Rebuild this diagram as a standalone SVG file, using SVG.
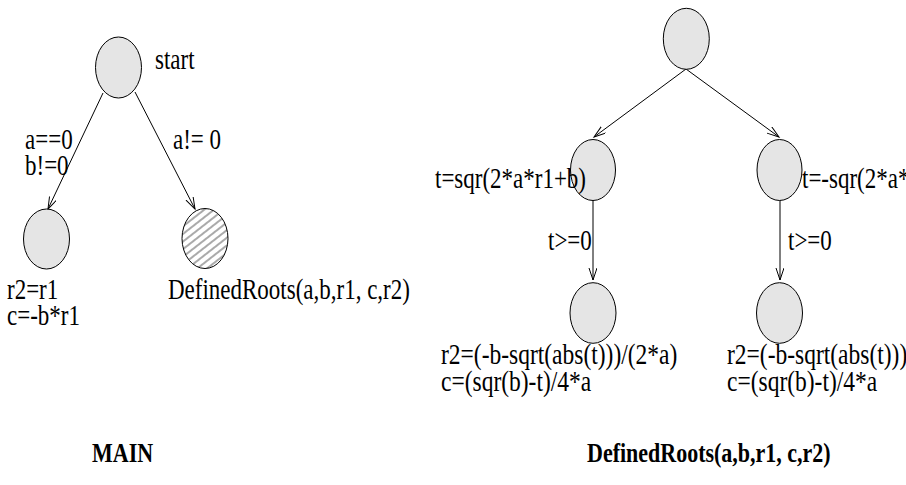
<svg xmlns="http://www.w3.org/2000/svg" width="906" height="485" viewBox="0 0 906 485">
  <style>
    .node { fill: #e5e5e5; stroke: #000; stroke-width: 1; }
    .hatched { fill: url(#hatch); stroke: #000; stroke-width: 1; }
    .edge { fill: none; stroke: #000; stroke-width: 1; marker-end: url(#arrow); }
    .lbl { font-family: "Liberation Serif", "Times New Roman", serif; font-size: 23px; fill: #000; }
    .formula { font-size: 23.5px; }
    .title { font-family: "Liberation Serif", "Times New Roman", serif; font-size: 22px; font-weight: bold; fill: #000; }
  </style>
  <defs>
    <marker id="arrow" markerUnits="userSpaceOnUse" markerWidth="14" markerHeight="10" refX="12" refY="4" orient="auto">
      <path d="M0,0 L12,4 L0,8" fill="none" stroke="#000" stroke-width="1"/>
    </marker>
    <pattern id="hatch" patternUnits="userSpaceOnUse" width="6" height="6" patternTransform="rotate(-38)">
      <rect width="6" height="6" fill="#fff"/>
      <line x1="0" y1="3" x2="6" y2="3" stroke="#555" stroke-width="1"/>
    </pattern>
  </defs>

  <!-- MAIN procedure -->
  <g id="connectors-main">
    <line class="edge" x1="103" y1="93" x2="48" y2="209"/>
    <line class="edge" x1="135" y1="92" x2="195" y2="209"/>
    <text class="lbl" transform="translate(25,148.5) scale(1,1.25)"><tspan x="0" y="0">a==0</tspan><tspan x="0" dy="21.6">b!=0</tspan></text>
    <text class="lbl" transform="translate(173,148.5) scale(1,1.25)">a!= 0</text>
  </g>

  <g id="main-start">
    <ellipse class="node" cx="118.5" cy="67.5" rx="23" ry="30.5"/>
    <text class="lbl" transform="translate(155,69) scale(1,1.25)">start</text>
  </g>

  <g id="main-linear">
    <ellipse class="node" cx="46.5" cy="239" rx="23" ry="30"/>
    <text class="lbl" transform="translate(7,299) scale(1,1.25)"><tspan x="0" y="0">r2=r1</tspan><tspan x="0" dy="21.2">c=-b*r1</tspan></text>
  </g>

  <g id="main-call">
    <ellipse class="hatched" cx="205" cy="238.5" rx="23" ry="30"/>
    <text class="lbl" transform="translate(168,299) scale(1,1.25)">DefinedRoots(a,b,r1, c,r2)</text>
  </g>

  <text class="title" transform="translate(92,462) scale(1,1.25)">MAIN</text>

  <!-- DefinedRoots procedure -->
  <g id="connectors-roots">
    <line class="edge" x1="686" y1="69" x2="594" y2="137"/>
    <line class="edge" x1="686" y1="69" x2="779" y2="137"/>
    <line class="edge" x1="593" y1="197" x2="593" y2="280"/>
    <line class="edge" x1="780" y1="197" x2="780" y2="280"/>
    <text class="lbl" transform="translate(548,250) scale(1,1.25)">t&gt;=0</text>
    <text class="lbl" transform="translate(788,250) scale(1,1.25)">t&gt;=0</text>
  </g>

  <g id="roots-entry">
    <ellipse class="node" cx="686.3" cy="38.8" rx="23" ry="30.5"/>
  </g>

  <g id="roots-plus">
    <ellipse class="node" cx="593" cy="170" rx="22.5" ry="30.5"/>
    <text class="lbl" transform="translate(435,188) scale(1,1.25)">t=sqr(2*a*r1+b)</text>
  </g>

  <g id="roots-minus">
    <ellipse class="node" cx="779.5" cy="170" rx="22.5" ry="30.5"/>
    <text class="lbl" transform="translate(802,188) scale(1,1.25)">t=-sqr(2*a*r1+b)</text>
  </g>

  <g id="roots-plus-result">
    <ellipse class="node" cx="593" cy="313" rx="23" ry="30.3"/>
    <text class="lbl formula" transform="translate(441,364) scale(1,1.25)"><tspan x="0" y="0">r2=(-b-sqrt(abs(t)))/(2*a)</tspan><tspan x="0" dy="21.6">c=(sqr(b)-t)/4*a</tspan></text>
  </g>

  <g id="roots-minus-result">
    <ellipse class="node" cx="779.5" cy="313" rx="23" ry="30.3"/>
    <text class="lbl formula" transform="translate(727,364) scale(1,1.25)"><tspan x="0" y="0">r2=(-b-sqrt(abs(t)))/(2*a)</tspan><tspan x="0" dy="21.6">c=(sqr(b)-t)/4*a</tspan></text>
  </g>

  <text class="title" transform="translate(587,462) scale(1,1.25)">DefinedRoots(a,b,r1, c,r2)</text>
</svg>
